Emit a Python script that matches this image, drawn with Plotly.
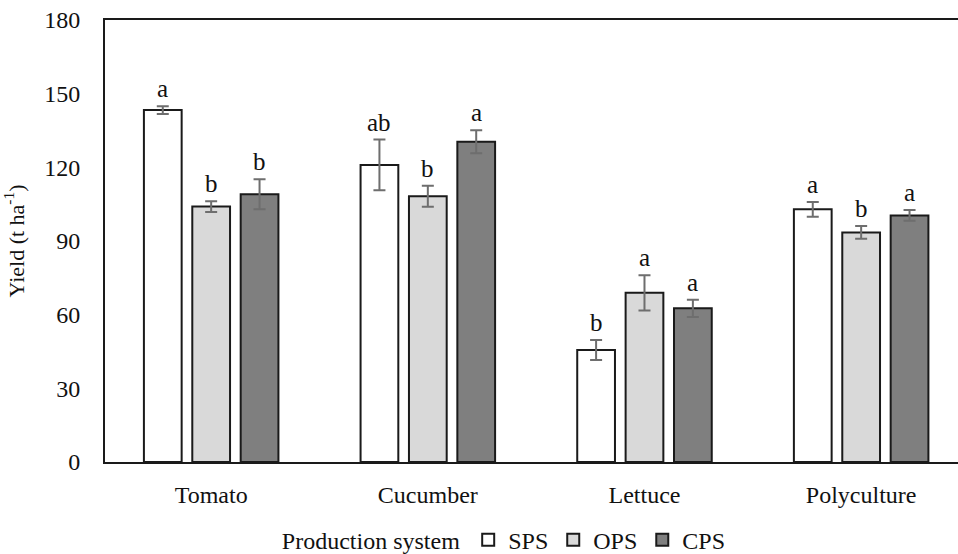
import plotly.graph_objects as go

crops = ["Tomato", "Cucumber", "Lettuce", "Polyculture"]
systems = ["SPS", "OPS", "CPS"]
yield_sps = [143.3, 121.0, 45.6, 102.9]
yield_ops = [104.0, 108.2, 68.9, 93.5]
yield_cps = [109.0, 130.4, 62.6, 100.4]
err_sps = [1.6, 10.3, 4.1, 3.0]
err_ops = [2.2, 4.3, 7.2, 2.6]
err_cps = [6.1, 4.7, 3.5, 2.2]
letters_sps = ["a", "ab", "b", "a"]
letters_ops = ["b", "b", "a", "b"]
letters_cps = ["b", "a", "a", "a"]
y_ticks = [0, 30, 60, 90, 120, 150, 180]

colors = ["#ffffff", "#d9d9d9", "#7f7f7f"]
values = [yield_sps, yield_ops, yield_cps]
errors = [err_sps, err_ops, err_cps]
letters = [letters_sps, letters_ops, letters_cps]

FONT = "Liberation Serif"
fig = go.Figure()
for s, v, e, c in zip(systems, values, errors, colors):
    fig.add_trace(go.Bar(
        name=s, x=crops, y=v, marker=dict(color=c, line=dict(color="#1a1a1a", width=2)),
        error_y=dict(type="data", array=e, visible=True, color="#6e6e6e", thickness=2, width=6),
        offsetgroup=s,
    ))

# letter annotations placed above error bars
n = len(systems)
bargap = 0.33
slot = (1 - bargap) / n
for k, (v, e, l) in enumerate(zip(values, errors, letters)):
    off = (k - (n - 1) / 2) * slot
    for i, crop in enumerate(crops):
        fig.add_annotation(x=i + off, y=v[i] + e[i], xref="x", yref="y", text=l[i],
                           showarrow=False, yanchor="bottom", yshift=2,
                           font=dict(family=FONT, size=25, color="#111"))

fig.update_layout(
    width=958, height=554,
    margin=dict(l=105, r=0, t=20, b=92, autoexpand=False),
    paper_bgcolor="white", plot_bgcolor="white",
    barmode="group", bargap=bargap, bargroupgap=0.22,
    font=dict(family=FONT, size=24, color="#111"),
    showlegend=True,
    legend=dict(orientation="h", x=0.205, xanchor="left", y=0.025, yanchor="middle",
                yref="container",
                title=dict(text="Production system", side="left", font=dict(size=24)),
                font=dict(size=24), itemwidth=30, traceorder="normal"),
    xaxis=dict(range=[-0.49, 3.447], showline=True, linecolor="#1a1a1a", linewidth=2,
               mirror=True, ticks="", showgrid=False, ticklabelstandoff=10,
               tickfont=dict(size=24), automargin=False),
    yaxis=dict(range=[0, 180], tickvals=y_ticks, showline=True, linecolor="#1a1a1a",
               linewidth=2, ticks="", showgrid=False, zeroline=False, automargin=False,
               ticklabelstandoff=18, tickfont=dict(size=24),
               title=dict(text="Yield (t ha<sup>-1</sup>)", font=dict(size=22), standoff=14)),
)
fig.write_html("out.html")
